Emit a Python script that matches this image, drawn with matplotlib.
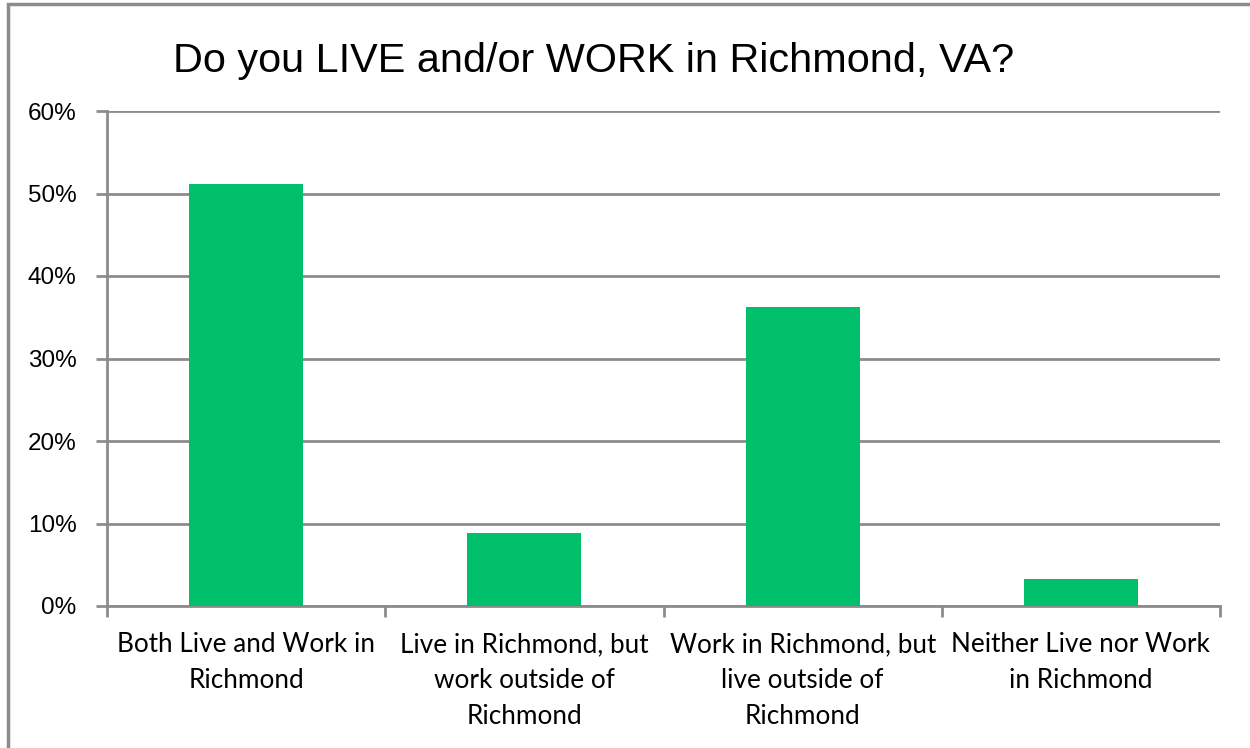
import matplotlib
matplotlib.use("Agg")
import matplotlib.pyplot as plt
from matplotlib.ticker import FixedLocator, PercentFormatter
import numpy as np

categories = ["Both Live and Work in\nRichmond",
              "Live in Richmond, but\nwork outside of\nRichmond",
              "Work in Richmond, but\nlive outside of\nRichmond",
              "Neither Live nor Work\nin Richmond"]
values = [51.2, 8.9, 36.3, 3.3]
yticks = [0, 10, 20, 30, 40, 50, 60]
title = "Do you LIVE and/or WORK in Richmond, VA?"

GRID = "#8c8c8c"
GREEN = "#00c06b"

fig = plt.figure(figsize=(12.5, 7.48), dpi=100)
ax = fig.add_axes([107/1250, 1 - 606/748, (1220 - 107)/1250, (606 - 111)/748])

x = np.arange(len(categories))
ax.bar(x, values, width=0.41, color=GREEN, zorder=3)

ax.set_xlim(-0.5, len(categories) - 0.5)
ax.set_ylim(0, 60)
ax.set_yticks(yticks)
ax.yaxis.set_major_formatter(PercentFormatter(decimals=0))
ax.grid(axis="y", color=GRID, linewidth=2, zorder=0)
ax.set_axisbelow(True)

for s in ["top", "right"]:
    ax.spines[s].set_visible(False)
for s in ["left", "bottom"]:
    ax.spines[s].set_color(GRID)
    ax.spines[s].set_linewidth(2)

ax.set_xticks(x)
ax.set_xticklabels(categories, fontsize=18.8, family="Lato", linespacing=1.55)
ax.tick_params(axis="x", which="major", length=0, pad=19)
ax.xaxis.set_minor_locator(FixedLocator(np.arange(-0.5, len(categories), 1.0)))
ax.tick_params(axis="x", which="minor", length=8, width=2, color=GRID)
ax.tick_params(axis="y", length=8, width=2, color=GRID, pad=14, labelsize=17.5)
for lab in ax.get_yticklabels():
    lab.set_family("Liberation Sans")

fig.text(594/1250, 1 - 61/748, title, fontsize=29.8, family="Liberation Sans",
         ha="center", va="center")

# outer chart frame
fig.patches.append(plt.Rectangle((8/1250, -0.1), 1.2, 1 - 4/748 + 0.1,
                                 transform=fig.transFigure, fill=False,
                                 edgecolor="#8c8c8c", linewidth=2.5))

fig.savefig("out.png", dpi=100)
